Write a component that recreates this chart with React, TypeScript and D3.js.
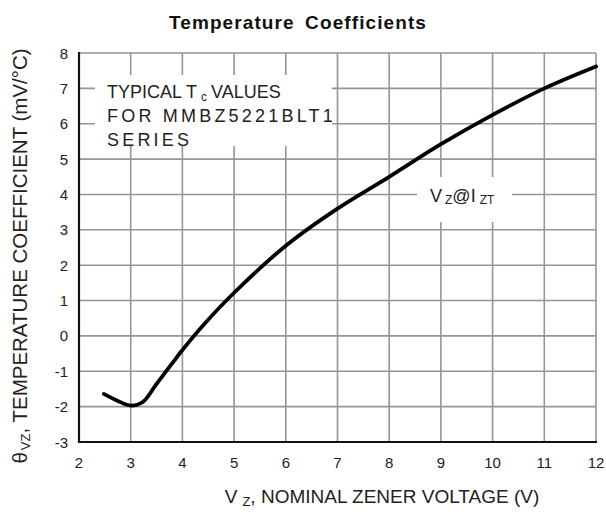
import React from 'react';
import * as d3 from 'd3';

// nominal zener voltage (V) vs temperature coefficient (mV/°C)
const vzValues = [2.48, 2.75, 3.0, 3.24, 3.48, 3.79, 4.0, 4.42, 5.0, 6.0, 7.0, 8.0, 9.0, 10.0, 11.0, 12.0];
const tcValues = [-1.64, -1.84, -1.97, -1.86, -1.4, -0.8, -0.4, 0.33, 1.22, 2.55, 3.6, 4.5, 5.42, 6.25, 7.0, 7.62];

const xTicks = [2, 3, 4, 5, 6, 7, 8, 9, 10, 11, 12];
const yTicks = [-3, -2, -1, 0, 1, 2, 3, 4, 5, 6, 7, 8];

const W = 606;
const H = 521;
const plot = { left: 79, right: 596, top: 53, bottom: 442 };

const font = 'Liberation Sans, Arial, sans-serif';
const gridColor = '#959595';
const textColor = '#222';

export default function App() {
  const x = d3.scaleLinear().domain([2, 12]).range([plot.left, plot.right]);
  const y = d3.scaleLinear().domain([-3, 8]).range([plot.bottom, plot.top]);

  const points = vzValues.map((v, i) => [v, tcValues[i]] as [number, number]);
  const line = d3
    .line<[number, number]>()
    .x((d) => x(d[0]))
    .y((d) => y(d[1]))
    .curve(d3.curveCatmullRom.alpha(0.5));

  return (
    <svg
      width={W}
      height={H}
      style={{ position: 'absolute', left: 0, top: 0, background: '#fff' }}
      fontFamily={font}
    >
      <rect x={0} y={0} width={W} height={H} fill="#fff" />

      {/* grid */}
      {xTicks.slice(1).map((t) => (
        <line key={`gx-${t}`} x1={x(t)} x2={x(t)} y1={plot.top} y2={plot.bottom} stroke={gridColor} strokeWidth={1.6} />
      ))}
      {yTicks.slice(1).map((t) => (
        <line key={`gy-${t}`} x1={plot.left} x2={plot.right} y1={y(t)} y2={y(t)} stroke={gridColor} strokeWidth={1.6} />
      ))}

      {/* white backgrounds behind annotations */}
      <rect x={95} y={75} width={237} height={71} fill="#fff" />
      <rect x={417} y={177} width={95} height={45} fill="#fff" />

      {/* axes */}
      <line x1={plot.left} x2={plot.left} y1={plot.top - 1} y2={plot.bottom + 1} stroke="#111" strokeWidth={2.2} />
      <line x1={plot.left - 1} x2={plot.right + 1} y1={plot.bottom} y2={plot.bottom} stroke="#111" strokeWidth={2.2} />

      {/* curve */}
      <path d={line(points) ?? ''} fill="none" stroke="#000" strokeWidth={3.8} strokeLinecap="round" strokeLinejoin="round" />

      {/* tick labels */}
      {yTicks.map((t) => (
        <text key={`yl-${t}`} x={plot.left - 11} y={y(t) + 5.5} textAnchor="end" fontSize={15} fill={textColor}>
          {t}
        </text>
      ))}
      {xTicks.map((t) => (
        <text key={`xl-${t}`} x={x(t)} y={plot.bottom + 26} textAnchor="middle" fontSize={15} fill={textColor}>
          {t}
        </text>
      ))}

      {/* title */}
      <text x={298} y={29} textAnchor="middle" fontSize={19} fontWeight="bold" letterSpacing={1.1} wordSpacing={4} fill="#111">
        Temperature Coefficients
      </text>

      {/* annotations */}
      <text x={107} y={98} fontSize={18} fill={textColor}>
        TYPICAL T<tspan fontSize={12} dy={3} dx={4}>c</tspan>
        <tspan dy={-3} dx={4}>VALUES</tspan>
      </text>
      <text x={107} y={122} fontSize={18} letterSpacing={3.2} fill={textColor}>
        FOR MMBZ5221BLT1
      </text>
      <text x={107} y={146} fontSize={18} letterSpacing={3.2} fill={textColor}>
        SERIES
      </text>
      <text x={430} y={202} fontSize={18} fill={textColor}>
        V<tspan fontSize={12} dy={2} dx={3}>Z</tspan>
        <tspan dy={-2}>@I</tspan>
        <tspan fontSize={12} dy={2} dx={4}>ZT</tspan>
      </text>

      {/* axis titles */}
      <text x={382} y={503} textAnchor="middle" fontSize={19} fill={textColor}>
        V<tspan fontSize={13} dy={3} dx={5}>Z</tspan>
        <tspan dy={-3}>, NOMINAL ZENER VOLTAGE (V)</tspan>
      </text>
      <text transform={`translate(27, 256) rotate(-90)`} textAnchor="middle" fontSize={20.5} fill={textColor}>
        θ<tspan fontSize={13} dy={3} dx={2}>VZ</tspan>
        <tspan dy={-3}>, TEMPERATURE COEFFICIENT (mV/°C)</tspan>
      </text>
    </svg>
  );
}
